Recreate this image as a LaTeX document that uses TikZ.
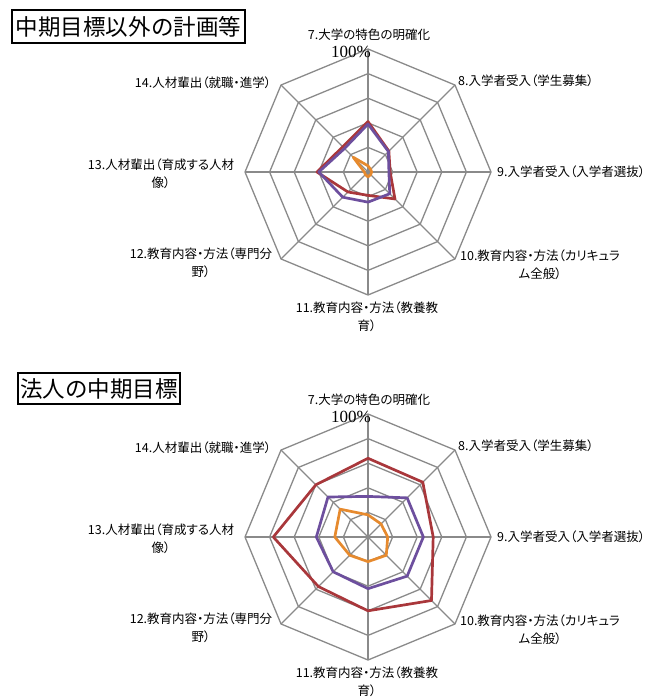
\documentclass[tikz,border=0pt]{standalone}
\usepackage{fontspec}
\setmainfont{Liberation Serif}
\newfontfamily\jpfont[RawFeature=+palt]{Noto Sans CJK JP}
\newfontfamily\jptitle{Noto Sans CJK JP}
\definecolor{gridgray}{HTML}{8A8A8A}
\definecolor{chartred}{HTML}{A9373B}
\definecolor{chartpurple}{HTML}{6D4F9E}
\definecolor{chartorange}{HTML}{E68A2E}
\def\RadR{123}
\newcommand\radargrid[2]{%
  \begin{scope}[shift={(368,-#2)}]
    \foreach \k in {1,...,5}{
      \draw[gridline] (90:{\k*\RadR/5}) \foreach \a in {45,0,-45,-90,-135,180,135}{ -- (\a:{\k*\RadR/5})} -- cycle;
    }
    \foreach \a in {90,45,0,-45,-90,-135,180,135} \draw[gridline] (0,0) -- (\a:\RadR);
    \node[lbl] (#1l7) at (1,137) {7.大学の特色の明確化};
    \node[lbl,anchor=west] (#1l8) at (90,91) {8.入学者受入（学生募集）};
    \node[lbl,anchor=west] (#1l9) at (129,0) {9.入学者受入（入学者選抜）};
    \node[lbl] (#1l10) at (172,-92.5) {10.教育内容・方法（カリキュラ\\ム全般）};
    \node[lbl] (#1l11) at (-1,-145) {11.教育内容・方法（教養教\\育）};
    \node[lbl] (#1l12) at (-167,-90.5) {12.教育内容・方法（専門分\\野）};
    \node[lbl] (#1l13) at (-207,-2) {13.人材輩出（育成する人材\\像）};
    \node[lbl] (#1l14) at (-165,89) {14.人材輩出（就職・進学）};
    \node[pct] (#1pct) at (-17,120) {100\%};
  \end{scope}}
\newcommand\radarseries[9]{\draw[#1] (90:{#2*\RadR}) -- (45:{#3*\RadR}) -- (0:{#4*\RadR}) -- (-45:{#5*\RadR}) -- (-90:{#6*\RadR}) -- (-135:{#7*\RadR}) -- (180:{#8*\RadR}) -- (135:{#9*\RadR}) -- cycle;}
\begin{document}
\begin{tikzpicture}[x=1pt,y=1pt,
  gridline/.style={draw=gridgray,line width=1.3pt,line join=miter},
  redline/.style={draw=chartred,line width=2.7pt,line join=round},
  purpleline/.style={draw=chartpurple,line width=2.7pt,line join=round},
  orangeline/.style={draw=chartorange,line width=2.7pt,line join=round},
  lbl/.style={font=\jpfont\fontsize{12.5}{18}\selectfont,inner sep=0pt,align=center},
  pct/.style={font=\fontsize{17}{18}\selectfont,inner sep=0pt},
  ttl/.style={draw=black,line width=2pt,font=\jptitle\fontsize{22.5}{26}\selectfont,inner sep=0pt}]
\useasboundingbox (0,0) rectangle (648,-698);
% titles
\node[ttl,minimum width=233pt,minimum height=33pt] (title1) at (128.5,-26.5) {中期目標以外の計画等};
\node[ttl,minimum width=162pt,minimum height=31pt] (title2) at (99,-388.5) {法人の中期目標};
% top chart
\radargrid{a}{172}
\radarseries{redline,shift={(368,-172)}}{0.41}{0.24}{0.18}{0.31}{0.19}{0.23}{0.415}{0.29}
\radarseries{purpleline,shift={(368,-172)}}{0.39}{0.235}{0.17}{0.25}{0.245}{0.29}{0.40}{0.27}
\radarseries{orangeline,shift={(368,-172)}}{0.05}{0.03}{0.03}{0.03}{0.04}{0.03}{0.03}{0.17}
% bottom chart
\radargrid{b}{537}
\radarseries{redline,shift={(368,-537)}}{0.64}{0.63}{0.53}{0.73}{0.60}{0.57}{0.77}{0.60}
\radarseries{purpleline,shift={(368,-537)}}{0.33}{0.45}{0.45}{0.45}{0.42}{0.40}{0.42}{0.46}
\radarseries{orangeline,shift={(368,-537)}}{0.18}{0.15}{0.16}{0.21}{0.20}{0.21}{0.27}{0.32}
\end{tikzpicture}
\end{document}
